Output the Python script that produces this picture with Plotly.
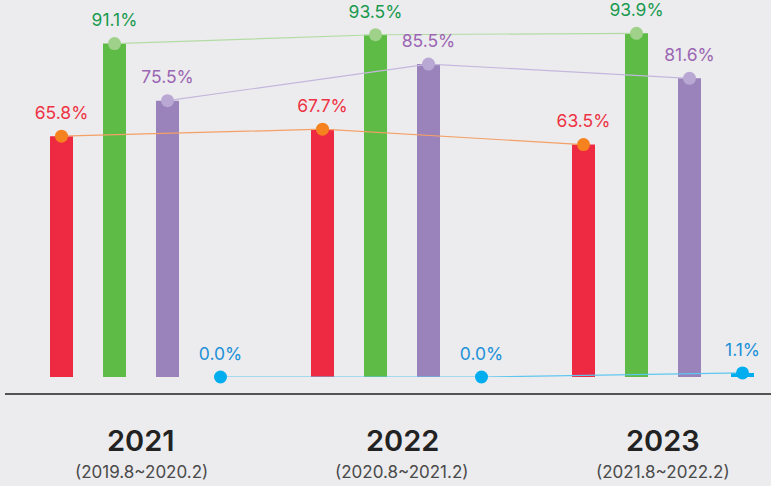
import plotly.graph_objects as go

# ---- data ----
years = ["2021", "2022", "2023"]
periods = ["(2019.8~2020.2)", "(2020.8~2021.2)", "(2021.8~2022.2)"]
red_vals = [65.8, 67.7, 63.5]
green_vals = [91.1, 93.5, 93.9]
purple_vals = [75.5, 85.5, 81.6]
blue_vals = [0.0, 0.0, 1.1]

series = [
    # values, bar color, marker color, line color, label color
    (red_vals, "#ee2a42", "#f5821f", "#f4a066", "#ee3344"),
    (green_vals, "#5dbb46", "#9fd18a", "#b3dca4", "#1a9a4e"),
    (purple_vals, "#9a82bb", "#b9a8d3", "#c4b7dd", "#9b66b3"),
    (blue_vals, "#00aeef", "#00aeef", "#5cc6f0", "#1b90d8"),
]

# ---- layout constants ----
W, H = 771, 486
unit_px = 261.0
first_center_px = 141.0
slot = 53.0 / unit_px
bar_w = 23.0 / unit_px
plot_h = 377
bottom_m = H - plot_h
x0 = -first_center_px / unit_px
x1 = x0 + W / unit_px
FONT = "Inter, Noto Sans, sans-serif"

fig = go.Figure()
idx = list(range(len(years)))

# bars
for j, (vals, bc, mc, lc, tc) in enumerate(series):
    off = (j - 1.5) * slot
    fig.add_trace(go.Bar(
        x=[i + off for i in idx], y=vals, width=bar_w,
        marker=dict(color=bc, line=dict(width=0)),
        showlegend=False, hoverinfo="skip",
    ))

# connecting lines with markers
for j, (vals, bc, mc, lc, tc) in enumerate(series):
    off = (j - 1.5) * slot
    fig.add_trace(go.Scatter(
        x=[i + off for i in idx], y=vals,
        mode="lines+markers",
        line=dict(color=lc, width=1.2),
        marker=dict(color=mc, size=13, line=dict(width=0)),
        cliponaxis=False, showlegend=False, hoverinfo="skip",
    ))

# value labels
for j, (vals, bc, mc, lc, tc) in enumerate(series):
    off = (j - 1.5) * slot
    fig.add_trace(go.Scatter(
        x=[i + off for i in idx], y=vals,
        mode="markers+text",
        marker=dict(color="rgba(0,0,0,0)", size=19, line=dict(width=0)),
        text=[f"{v:.1f}%" for v in vals],
        textposition="top center",
        textfont=dict(family=FONT, size=17.5, color=tc),
        cliponaxis=False, showlegend=False, hoverinfo="skip",
    ))

annotations = []
for i in idx:
    annotations.append(dict(
        x=i, y=(plot_h - 440) / plot_h, xref="x", yref="paper",
        text=years[i], showarrow=False, xanchor="center", yanchor="middle",
        font=dict(family=FONT, size=29, color="#222222", weight=600),
    ))
    annotations.append(dict(
        x=i, y=(plot_h - 472) / plot_h, xref="x", yref="paper",
        text=periods[i], showarrow=False, xanchor="center", yanchor="middle",
        font=dict(family=FONT, size=17, color="#4a4a4a"),
    ))

fig.update_layout(
    width=W, height=H,
    margin=dict(l=0, r=0, t=0, b=bottom_m),
    paper_bgcolor="#ececee", plot_bgcolor="#ececee",
    barmode="overlay",
    xaxis=dict(range=[x0, x1], visible=False, fixedrange=True),
    yaxis=dict(range=[0, 103], visible=False, fixedrange=True),
    annotations=annotations,
    shapes=[dict(type="line", xref="paper", yref="paper",
                 x0=5 / W, x1=1.0,
                 y0=(plot_h - 394) / plot_h, y1=(plot_h - 394) / plot_h,
                 line=dict(color="#222222", width=1.6))],
)

fig.write_html("out.html")
